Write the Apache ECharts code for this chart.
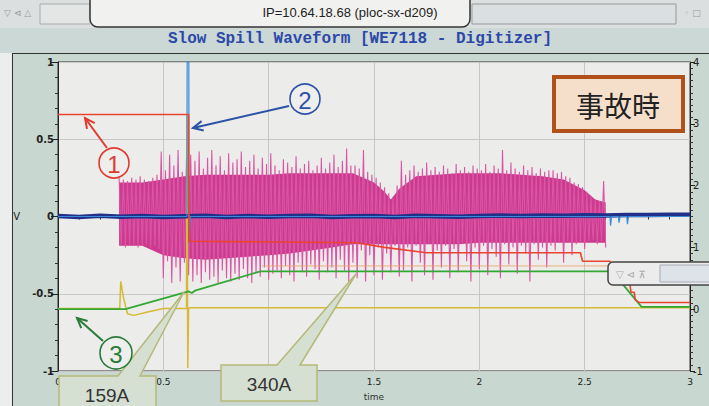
<!DOCTYPE html>
<html><head><meta charset="utf-8">
<script src="https://cdn.jsdelivr.net/npm/echarts@6/dist/echarts.min.js"></script>
<style>
html,body{margin:0;padding:0;background:#eceeed;overflow:hidden;}
#wrap{position:relative;width:709px;height:406px;}
.bg{position:absolute;}
#c{position:absolute;left:0;top:0;width:709px;height:406px;}
</style>
</head><body>
<div id="wrap">
<div class="bg" style="left:0;top:0;width:709px;height:28px;background:#dcdfe0;"></div>
<div class="bg" style="left:0;top:28px;width:709px;height:25px;background:#cbd8d5;"></div>
<div class="bg" style="left:12px;top:53px;width:720px;height:380px;background:#c8d7cf;border:1.5px solid #333;"></div>
<div id="c"></div>
</div>
<script>
// ---- tick labels ----
const xTicks = ['0','0.5','1','1.5','2','2.5','3'];
const xTicksHidden = ['1']; // covered by the "340A" callout in the reference
const leftTicks = ['-1','-0.5','0','0.5','1'];
const rightTicks = ['-1','0','1','2','3','4'];

// ---- trace 1 (red) ----
const redT = [0, 0.62, 0.621, 1.42, 1.55, 1.75, 2.48, 2.49, 2.62, 2.70, 2.715, 2.72, 2.735, 2.74, 2.76, 3.0];
const redV = [0.66, 0.66, -0.16, -0.17, -0.20, -0.235, -0.235, -0.29, -0.29, -0.42, -0.44, -0.49, -0.49, -0.54, -0.557, -0.557];

// ---- trace 3 (green) ----
const greenT = [0, 0.32, 0.62, 0.635, 0.65, 0.96, 2.63, 2.77, 3.0];
const greenV = [-0.60, -0.60, -0.485, -0.495, -0.48, -0.355, -0.355, -0.585, -0.585];

// ---- yellow trace ----
const yellowT = [0, 0.293, 0.298, 0.31, 0.33, 0.36, 0.42, 0.50, 0.61, 0.612, 0.616, 0.62, 0.625, 3.0];
const yellowV = [-0.595, -0.595, -0.42, -0.52, -0.63, -0.64, -0.62, -0.595, -0.595, 0.66, -0.98, -0.60, -0.59, -0.59];

// ---- faint orange trace ----
const orangeT = [0.97, 2.62];
const orangeV = [-0.32, -0.32];

// ---- trace 2 (light blue) ----
const cyanT = [0, 0.612, 0.613, 0.621, 0.622, 0.628, 2.62, 2.623, 2.628, 2.66, 2.663, 2.668, 2.70, 2.703, 2.708, 3.0];
const cyanV = [0, 0, 1, 1, -0.17, 0, 0, -0.06, 0, 0, -0.04, 0, 0, -0.05, 0, 0];

// ---- navy trace ----
const navyT = [0,0.1,0.2,0.3,0.4,0.5,0.6,0.7,0.8,0.9,1.0,1.1,1.2,1.3,1.4,1.5,1.6,1.7,1.8,1.9,2.0,2.1,2.2,2.3,2.4,2.5,2.6,2.7,2.8,2.9,3.0];
const navyV = [0.004,-0.003,0.005,-0.002,0.003,-0.004,0.002,0.005,-0.003,0.004,-0.002,0.003,0.005,-0.004,0.002,0.004,-0.003,0.005,0.002,-0.002,0.004,0.006,0.003,0.007,0.005,0.008,0.006,0.01,0.009,0.012,0.011];

// ---- magenta signal: dense core ----
const coreT = [0.29,0.4,0.5,0.6,0.7,0.8,0.9,1.0,1.1,1.2,1.3,1.4,1.5,1.55,1.58,1.62,1.7,1.8,1.9,2.0,2.1,2.2,2.3,2.4,2.5,2.55,2.6];
const coreTop = [0.22,0.22,0.24,0.26,0.27,0.27,0.27,0.27,0.28,0.28,0.28,0.28,0.22,0.16,0.11,0.18,0.26,0.27,0.28,0.28,0.28,0.27,0.26,0.24,0.17,0.11,0.09];
const coreBot = [-0.19,-0.19,-0.25,-0.27,-0.28,-0.27,-0.26,-0.25,-0.24,-0.22,-0.20,-0.18,-0.18,-0.18,-0.18,-0.18,-0.18,-0.18,-0.18,-0.17,-0.17,-0.17,-0.17,-0.17,-0.17,-0.17,-0.17];

// ---- magenta signal: spike envelope, sampled every 0.02 s from 0.29 s ----
const spikeStart = 0.29, spikeStep = 0.02;
const spikeHi = [
 0.25,0.24,0.23,0.25,0.24,0.26,0.24,0.23,0.25,0.27,
 0.42,0.30,0.40,0.33,0.43,0.29,0.38,
 0.40,0.36,0.42,0.31,0.38,0.43,0.33,0.39,0.30,0.41,0.35,0.37,0.42,0.32,0.36,0.40,0.31,0.38,0.34,0.41,0.33,0.30,0.37,0.35,0.32,0.39,0.31,0.34,0.36,0.30,0.33,0.38,0.31,0.35,0.40,0.32,0.36,0.44,0.33,
 0.33,0.31,0.43,0.29,0.27,0.25,0.22,0.19,0.15,0.12,0.20,
 0.36,0.27,0.30,0.33,0.29,0.31,0.35,0.30,0.32,0.29,0.33,0.31,0.28,0.34,0.30,0.32,0.29,0.33,0.31,0.30,0.34,0.29,0.33,0.31,0.43,0.30,0.35,0.31,0.29,0.33,0.30,0.32,0.28,0.31,0.29,0.30,
 0.30,0.28,0.29,0.26,0.25,0.22,0.21,0.19,0.16,0.13,0.11,0.10,0.23];
const spikeLo = [
 -0.19,-0.20,-0.18,-0.19,-0.20,-0.19,-0.18,-0.20,-0.19,-0.21,
 -0.40,-0.29,-0.43,-0.33,-0.42,-0.30,-0.38,
 -0.42,-0.38,-0.43,-0.36,-0.41,-0.39,-0.43,-0.35,-0.40,-0.42,-0.37,-0.41,-0.34,-0.40,-0.43,-0.36,-0.39,-0.33,-0.41,-0.37,-0.35,-0.40,-0.32,-0.38,-0.42,-0.30,-0.36,-0.39,-0.31,-0.34,-0.41,-0.29,-0.36,-0.33,-0.40,-0.28,-0.35,-0.42,-0.30,
 -0.40,-0.22,-0.42,-0.25,-0.38,-0.20,-0.41,-0.24,-0.36,-0.19,-0.39,
 -0.35,-0.20,-0.42,-0.19,-0.30,-0.38,-0.18,-0.41,-0.22,-0.33,-0.19,-0.40,-0.21,-0.36,-0.18,-0.29,-0.42,-0.20,-0.34,-0.19,-0.38,-0.21,-0.26,-0.40,-0.18,-0.31,-0.20,-0.37,-0.19,-0.24,-0.42,-0.18,-0.28,-0.20,-0.33,-0.19,
 -0.22,-0.17,-0.30,-0.16,-0.25,-0.18,-0.17,-0.21,-0.16,-0.15,-0.18,-0.16,-0.20];

function pairs(t, v) { return t.map((x, i) => [x, v[i]]); }
const zigzag = [];
spikeHi.forEach((h, i) => {
  const t = spikeStart + spikeStep * i;
  zigzag.push([t, h]);
  zigzag.push([t + spikeStep / 2, spikeLo[i]]);
});

const chart = echarts.init(document.getElementById('c'), null, {renderer: 'svg'});

function arrow(x1, y1, x2, y2, color) {
  const a = Math.atan2(y2 - y1, x2 - x1), L = 11, w = 0.45;
  return [
    {type: 'line', z: 100, shape: {x1, y1, x2, y2}, style: {stroke: color, lineWidth: 2}},
    {type: 'polyline', z: 100, shape: {points: [
      [x2 - L * Math.cos(a - w), y2 - L * Math.sin(a - w)], [x2, y2],
      [x2 - L * Math.cos(a + w), y2 - L * Math.sin(a + w)]]},
      style: {stroke: color, lineWidth: 2, fill: null}}
  ];
}
function circled(cx, cy, r, txt, color) {
  return [
    {type: 'circle', z: 100, shape: {cx, cy, r}, style: {stroke: color, lineWidth: 1.6, fill: 'rgba(240,240,236,0.6)'}},
    {type: 'text', z: 101, x: cx, y: cy + 1, style: {text: txt, fill: color, font: '24px "Liberation Sans", sans-serif', align: 'center', verticalAlign: 'middle'}}
  ];
}

const graphics = [].concat(
  // top window bar
  [{type: 'text', x: 4, y: 13, style: {text: '▽ ⊲ △', fill: '#9a9a9a', font: '9px "DejaVu Sans"', verticalAlign: 'middle'}},
   {type: 'rect', shape: {x: 40, y: 4, width: 50, height: 20}, style: {fill: '#e4e6e6', stroke: '#aaa', lineWidth: 1}},
   {type: 'rect', shape: {x: 472, y: 4, width: 204, height: 20}, style: {fill: '#dadfe1', stroke: '#999', lineWidth: 1}},
   {type: 'text', x: 684, y: 13, style: {text: '◦ □', fill: '#9a9a9a', font: '9px "DejaVu Sans"', verticalAlign: 'middle'}},
   {type: 'rect', shape: {x: 90, y: -12, width: 380, height: 39, r: 8}, style: {fill: '#f1f1ef', stroke: '#333', lineWidth: 1.5}},
   {type: 'text', x: 350, y: 12, style: {text: 'IP=10.64.18.68 (ploc-sx-d209)', fill: '#222', font: '13px "Liberation Sans", sans-serif', align: 'center', verticalAlign: 'middle'}},
   {type: 'text', x: 360, y: 39, style: {text: 'Slow Spill Waveform [WE7118 - Digitizer]', fill: '#2c48a8', font: 'bold 16px "Liberation Mono", monospace', align: 'center', verticalAlign: 'middle'}},
   // small window at right
   {type: 'rect', z: 100, shape: {x: 608, y: 262, width: 110, height: 23, r: 5}, style: {fill: '#ececec', stroke: '#444', lineWidth: 1.5}},
   {type: 'text', z: 101, x: 616, y: 274, style: {text: '▽ ⊲ ⊼', fill: '#a8a8a8', font: '10px "DejaVu Sans"', verticalAlign: 'middle'}},
   {type: 'rect', z: 101, shape: {x: 660, y: 265, width: 60, height: 17}, style: {fill: '#dde3e8', stroke: '#aab', lineWidth: 1}},
   // 事故時 box
   {type: 'rect', z: 100, shape: {x: 554, y: 77, width: 129, height: 54}, style: {fill: '#f6dfca', stroke: '#b0501a', lineWidth: 4}},
   {type: 'text', z: 101, x: 618, y: 105, style: {text: '事故時', fill: '#222', font: '28px "Noto Sans CJK JP", sans-serif', align: 'center', verticalAlign: 'middle'}},
   // callouts
   {type: 'polygon', z: 100, shape: {points: [[59,410],[59,376],[118,376],[184,292],[140,376],[156,376],[156,410]]}, style: {fill: '#d5e0d2', stroke: '#b5b878', lineWidth: 1.5}},
   {type: 'text', z: 101, x: 107, y: 395, style: {text: '159A', fill: '#333', font: '19px "Liberation Sans", sans-serif', align: 'center', verticalAlign: 'middle'}},
   {type: 'polygon', z: 100, shape: {points: [[221,365],[277,365],[356,274],[300,365],[317,365],[317,401],[221,401]]}, style: {fill: '#d5e0d2', stroke: '#b5b878', lineWidth: 1.5}},
   {type: 'text', z: 101, x: 269, y: 384, style: {text: '340A', fill: '#333', font: '19px "Liberation Sans", sans-serif', align: 'center', verticalAlign: 'middle'}}
  ],
  arrow(107, 148, 85, 118, '#e03a30'), circled(114, 163, 15, '1', '#e03a30'),
  arrow(289, 106, 193, 128, '#2c52a8'), circled(305, 99, 15, '2', '#2c52a8'),
  arrow(103, 341, 77, 318, '#2a7a3a'), circled(116, 353, 16, '3', '#2a7a3a')
);

const lineBase = {type: 'line', showSymbol: false, symbol: 'none', animation: false, silent: true};

chart.setOption({
  animation: false,
  backgroundColor: 'transparent',
  grid: {left: 58, right: 19, top: 62, bottom: 35, show: true, backgroundColor: '#ececea', borderColor: '#333', borderWidth: 1},
  xAxis: {
    type: 'value', min: 0, max: 3, interval: 0.5,
    name: 'time', nameLocation: 'middle', nameGap: 21, nameTextStyle: {fontSize: 9, color: '#333', fontFamily: 'DejaVu Sans'},
    axisLine: {show: true, lineStyle: {color: '#222'}},
    axisTick: {show: true, length: 6, lineStyle: {color: '#222'}},
    minorTick: {show: true, splitNumber: 5, length: 3, lineStyle: {color: '#333'}},
    axisLabel: {fontSize: 9, color: '#222', margin: 6, fontFamily: 'DejaVu Sans', formatter: v => {
      const s = xTicks[Math.round(v / 0.5)];
      return xTicksHidden.includes(s) ? '' : s;
    }},
    splitLine: {show: true, lineStyle: {color: '#c6c6c6'}}
  },
  yAxis: [{
    type: 'value', min: -1, max: 1, interval: 0.5,
    name: 'V', nameLocation: 'middle', nameGap: 38, nameRotate: 0, nameTextStyle: {fontSize: 10, color: '#222', fontFamily: 'DejaVu Sans'},
    axisLine: {show: true, lineStyle: {color: '#222'}},
    axisTick: {show: true, length: 7, lineStyle: {color: '#222'}},
    minorTick: {show: true, splitNumber: 5, length: 3, lineStyle: {color: '#333'}},
    axisLabel: {fontSize: 10, fontWeight: 'bold', color: '#222', margin: 4, fontFamily: 'DejaVu Sans', formatter: v => leftTicks[Math.round((v + 1) / 0.5)]},
    splitLine: {show: true, lineStyle: {color: '#c8c8c8'}}
  }, {
    type: 'value', min: -1, max: 4, interval: 1, position: 'right',
    axisLine: {show: true, lineStyle: {color: '#222'}},
    axisTick: {show: true, length: 5, lineStyle: {color: '#222'}},
    minorTick: {show: true, splitNumber: 10, length: 3, lineStyle: {color: '#333'}},
    axisLabel: {fontSize: 10, color: '#222', margin: 3, fontFamily: 'DejaVu Sans', formatter: v => rightTicks[Math.round(v + 1)]},
    splitLine: {show: false}
  }],
  graphic: graphics,
  series: [
    Object.assign({}, lineBase, {name: 'coreTop', data: pairs(coreT, coreTop), z: 1, lineStyle: {opacity: 0}, areaStyle: {color: '#cb3a8c', opacity: 1}}),
    Object.assign({}, lineBase, {name: 'coreBot', data: pairs(coreT, coreBot), z: 1, lineStyle: {opacity: 0}, areaStyle: {color: '#cb3a8c', opacity: 1}}),
    Object.assign({}, lineBase, {name: 'spikes', data: zigzag, z: 2, lineStyle: {color: '#db55a6', width: 1.1}}),
    Object.assign({}, lineBase, {name: 'orange', data: pairs(orangeT, orangeV), z: 3, lineStyle: {color: '#f0a060', width: 1, opacity: 0.8}}),
    Object.assign({}, lineBase, {name: 'yellow', data: pairs(yellowT, yellowV), z: 3, lineStyle: {color: '#d6b936', width: 1.5}}),
    Object.assign({}, lineBase, {name: 'green', data: pairs(greenT, greenV), z: 4, lineStyle: {color: '#34a834', width: 1.8}}),
    Object.assign({}, lineBase, {name: 'navy', data: pairs(navyT, navyV), z: 5, lineStyle: {color: '#22308a', width: 4.5}}),
    Object.assign({}, lineBase, {name: 'cyan', data: pairs(cyanT, cyanV), z: 6, lineStyle: {color: '#3a8ad8', width: 1.2}}),
    Object.assign({}, lineBase, {name: 'red', data: pairs(redT, redV), z: 7, lineStyle: {color: '#ea4430', width: 1.6}})
  ]
});
</script>
</body></html>
